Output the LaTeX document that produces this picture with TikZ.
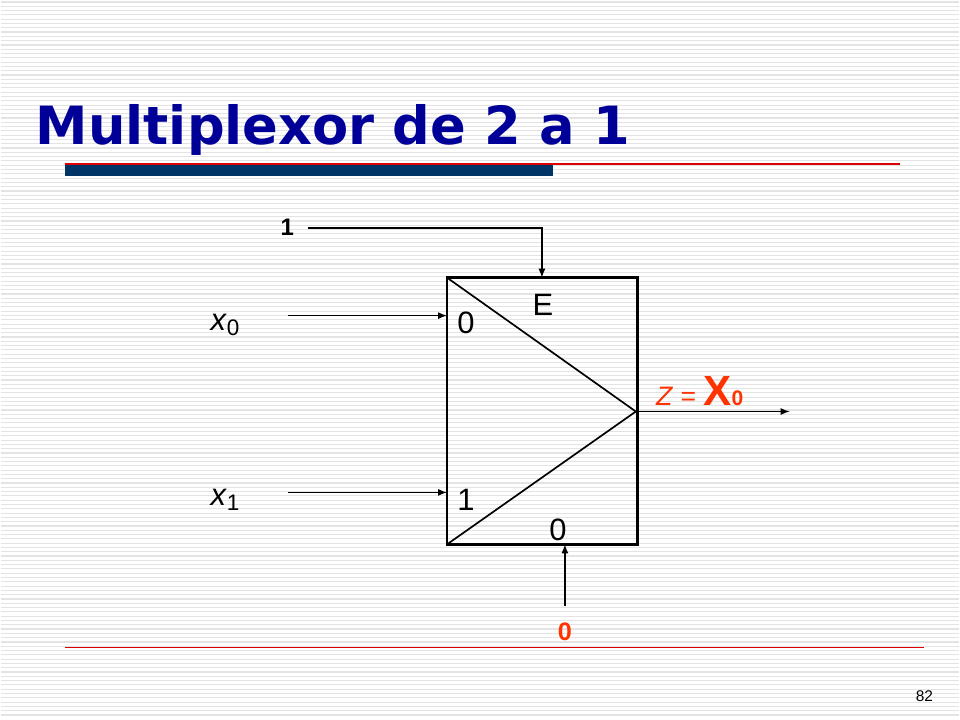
\documentclass[tikz,border=0pt]{standalone}
\usepackage{fontspec}
\setmainfont{Liberation Sans}
\newfontfamily\titlefont{DejaVu Sans}
\usetikzlibrary{arrows}
\definecolor{titleblue}{RGB}{0,0,153}
\definecolor{barblue}{RGB}{0,51,102}
\definecolor{linered}{RGB}{220,0,0}
\definecolor{outred}{RGB}{255,51,0}
\begin{document}
\begin{tikzpicture}
	[x=0.025cm,y=-0.025cm,
		wire/.style={-latex,line width=1.2pt},
		lbl/.style={font=\fontsize{22}{22}\selectfont,inner sep=0pt},
		muxbox/.style={line width=2pt},
	]
	% background
	\fill[white] (0,0) rectangle (960,720);
	\foreach \y in {2,6.3,...,720}
		\draw[black!11,line width=0.8pt] (0,\y) -- (960,\y);
	\useasboundingbox (0,0) rectangle (960,720);

	% title
	\node[anchor=base west,inner sep=0pt,text=titleblue,font=\titlefont\bfseries\fontsize{37.5}{37.5}\selectfont] (title) at (35,145) {Multiplexor de 2 a 1};
	\draw[linered,line width=1pt] (65,164) -- (900,164);
	\fill[barblue] (65,165) rectangle (553,176);
	\draw[linered,line width=1pt] (65,648) -- (925,648);
	\node[font=\fontsize{11}{11}\selectfont] (page) at (925,697) {82};

	% multiplexer
	\draw[muxbox] (447,278) rectangle (638,545);
	\coordinate (tip) at (636,412);
	\draw[line width=1.2pt] (447,278) -- (tip) -- (447,545);
	\node[lbl] (en) at (543,305) {E};
	\node[lbl] (in0) at (466,323) {0};
	\node[lbl] (in1) at (466,500) {1};
	\node[lbl] (sel) at (558,530) {0};
	\coordinate (e) at (542,278);
	\coordinate (i0) at (447,316);
	\coordinate (i1) at (447,493);
	\coordinate (s) at (565,545);
	\coordinate (out) at (790,412);

	% inputs
	\node[lbl,anchor=base west] (x0) at (210,331) {\textit{x}\raisebox{-0.3ex}{\fontsize{16}{16}\selectfont 0}};
	\node[lbl,anchor=base west] (x1) at (210,506) {\textit{x}\raisebox{-0.3ex}{\fontsize{16}{16}\selectfont 1}};
	\draw[wire] (288,316) -- (i0);
	\draw[wire] (288,493) -- (i1);
	\node[lbl,font=\bfseries\fontsize{17}{17}\selectfont] (one) at (287,228) {1};
	\draw[wire] (one.east) ++(14,0) -| (e);
	\node[lbl,text=outred,font=\bfseries\fontsize{18}{18}\selectfont] (zero) at (565,633) {0};
	\draw[wire] (565,607) -- (s);

	% output
	\draw[wire] (638,412) -- (out);
	\node[lbl,text=outred,anchor=base west,font=\fontsize{19}{19}\selectfont] (z) at (656,406) {\textit{Z} = {\bfseries\fontsize{30}{30}\selectfont X}{\bfseries\fontsize{15}{15}\selectfont 0}};
\end{tikzpicture}
\end{document}
